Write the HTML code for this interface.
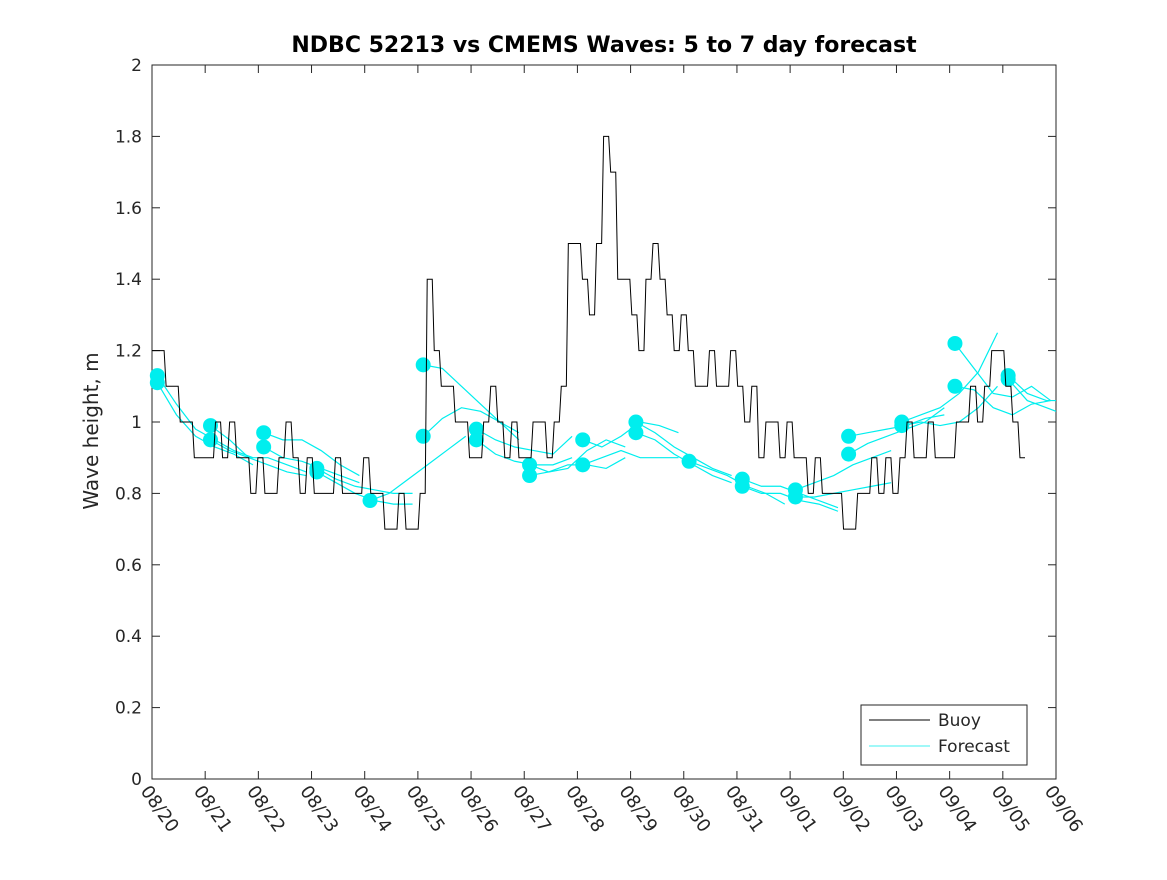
<!DOCTYPE html>
<html><head><meta charset="utf-8"><style>
body{margin:0;background:#fff}
svg{font-family:"DejaVu Sans","Liberation Sans",sans-serif}
</style></head><body>
<svg id="chart" width="1167" height="875" viewBox="0 0 1167 875" xmlns="http://www.w3.org/2000/svg">
<rect x="0" y="0" width="1167" height="875" fill="#fff"/>
<text x="604" y="52" text-anchor="middle" font-size="22" font-weight="bold" fill="#000">NDBC 52213 vs CMEMS Waves: 5 to 7 day forecast</text>
<text transform="translate(98,431) rotate(-90)" text-anchor="middle" font-size="20" fill="#262626">Wave height, m</text>
<rect x="152" y="65" width="904" height="714" fill="none" stroke="#262626" stroke-width="1"/>
<g id="axes"></g>
<g id="forecast"></g>
<g id="buoy"></g>
<g>
<rect x="861" y="705" width="166" height="60" fill="#fff" stroke="#262626" stroke-width="1"/>
<line x1="869" y1="720" x2="930" y2="720" stroke="#000" stroke-width="1"/>
<text x="938" y="726" font-size="17" fill="#262626">Buoy</text>
<line x1="869" y1="746" x2="930" y2="746" stroke="#00eeee" stroke-width="0.8"/>
<text x="938" y="752" font-size="17" fill="#262626">Forecast</text>
</g>
</svg>
<script>
const xLabels=["08/20","08/21","08/22","08/23","08/24","08/25","08/26","08/27","08/28","08/29","08/30","08/31","09/01","09/02","09/03","09/04","09/05","09/06"];
const yTicks=[0,0.2,0.4,0.6,0.8,1,1.2,1.4,1.6,1.8,2];
const buoyStep=0.1327;
const buoy=[
1.2,1.2,1.1,1.1,1.0,1.0,0.9,0.9,
0.9,1.0,0.9,1.0,0.9,0.9,0.8,0.9,
0.8,0.8,0.9,1.0,0.9,0.8,0.9,0.8,
0.8,0.8,0.9,0.8,0.8,0.8,0.9,0.8,
0.8,0.7,0.7,0.8,0.7,0.7,0.8,1.4,
1.2,1.1,1.1,1.0,1.0,0.9,0.9,1.0,
1.1,1.0,0.9,1.0,0.9,0.9,1.0,1.0,
0.9,1.0,1.1,1.5,1.5,1.4,1.3,1.5,
1.8,1.7,1.4,1.4,1.3,1.2,1.4,1.5,
1.4,1.3,1.2,1.3,1.2,1.1,1.1,1.2,
1.1,1.1,1.2,1.1,1.0,1.1,0.9,1.0,
1.0,0.9,1.0,0.9,0.9,0.8,0.9,0.8,
0.8,0.8,0.7,0.7,0.8,0.8,0.9,0.8,
0.9,0.8,0.9,1.0,0.9,0.9,1.0,0.9,
0.9,0.9,1.0,1.0,1.1,1.0,1.1,1.2,
1.2,1.1,1.0,0.9];
const runStart=[0.1,0.1,1.1,1.1,2.1,2.1,3.1,3.1,4.1,5.1,5.1,6.1,6.1,7.1,7.1,8.1,8.1,9.1,9.1,10.1,11.1,11.1,12.1,12.1,13.1,13.1,14.1,14.1,15.1,15.1,16.1,16.1];
const runStep=0.36;
const runValues=[
[1.13,1.05,0.98,0.95,0.92,0.90],[1.11,1.02,0.96,0.93,0.91,0.88],
[0.99,0.95,0.90,0.90,0.88,0.86],[0.95,0.92,0.90,0.88,0.86,0.85],
[0.97,0.95,0.95,0.92,0.88,0.85],[0.93,0.90,0.89,0.87,0.85,0.83],
[0.87,0.84,0.82,0.81,0.80,0.80],[0.86,0.83,0.80,0.78,0.77,0.77],
[0.78,0.80,0.84,0.88,0.92,0.96],
[1.16,1.15,1.10,1.05,1.00,0.95],[0.96,1.01,1.04,1.03,1.00,0.97],
[0.98,0.95,0.93,0.92,0.91,0.96],[0.95,0.91,0.89,0.88,0.88,0.90],
[0.88,0.86,0.87,0.92,0.95,0.93],[0.85,0.86,0.88,0.88,0.87,0.90],
[0.95,0.93,0.96,1.00,0.99,0.97],[0.88,0.90,0.92,0.90,0.90,0.90],
[1.00,0.97,0.93,0.90,0.87,0.85],[0.97,0.95,0.91,0.88,0.85,0.83],
[0.89,0.87,0.85,0.82,0.80,0.77],
[0.84,0.82,0.82,0.80,0.78,0.76],[0.82,0.80,0.80,0.78,0.77,0.75],
[0.81,0.83,0.85,0.88,0.90,0.92],[0.79,0.79,0.80,0.81,0.82,0.83],
[0.96,0.97,0.98,0.99,1.01,1.02],[0.91,0.94,0.96,0.98,1.00,1.04],
[1.00,1.02,1.04,1.08,1.14,1.25],[0.99,1.00,0.99,1.00,1.04,1.10],
[1.22,1.15,1.08,1.07,1.10,1.06],[1.10,1.09,1.04,1.02,1.05,1.06],
[1.13,1.08,1.06,1.06,1.07,1.09],[1.12,1.06,1.04,1.03,1.03,1.05]];

const X0=152,X1=1056,Y0=779,Y1=65;
const NDAYS=xLabels.length-1;
const xs=d=>X0+d*(X1-X0)/NDAYS;
const ys=v=>Y0-v*(Y0-Y1)/2;
const NS="http://www.w3.org/2000/svg";
function mk(tag,attrs,parent){const e=document.createElementNS(NS,tag);for(const k in attrs)e.setAttribute(k,attrs[k]);parent.appendChild(e);return e;}
const axes=document.getElementById('axes');
yTicks.forEach(v=>{
  const y=ys(v);
  const l=mk('line',{x1:X0,y1:y,x2:X0+8,y2:y,stroke:'#262626'},axes);
  
  
  const r=mk('line',{x1:X1,y1:y,x2:X1-8,y2:y,stroke:'#262626'},axes);
  
  
  const t=mk('text',{x:X0-10,y:y+6,'text-anchor':'end','font-size':17,fill:'#262626'},axes);
  
  
  t.textContent=String(v);
});
xLabels.forEach((s,i)=>{
  const x=xs(i);
  const l=mk('line',{x1:x,y1:Y0,x2:x,y2:Y0-8,stroke:'#262626'},axes);
  
  
  const l2=mk('line',{x1:x,y1:Y1,x2:x,y2:Y1+8,stroke:'#262626'},axes);
  
  
  const t=mk('text',{transform:`translate(${x-12},${Y0+12}) rotate(55)`,'font-size':18,fill:'#262626'},axes);
  
  
  t.textContent=s;
});
const fg=document.getElementById('forecast');
runValues.forEach((vals,r)=>{
  const pts=vals.map((v,i)=>[runStart[r]+i*runStep,v]).filter(p=>p[0]<=NDAYS+0.3);
  const p=mk('polyline',{points:pts.map(p=>`${Math.min(xs(p[0]),X1)},${ys(p[1])}`).join(' '),fill:'none',stroke:'#00eeee','stroke-width':1.2},fg);
  
  
});
runValues.forEach((vals,r)=>{
  const c=mk('circle',{cx:xs(runStart[r]),cy:ys(vals[0]),r:7.5,fill:'#00eeee'},fg);
  
  
});
const bg=document.getElementById('buoy');
const bpts=[];
buoy.forEach((v,i)=>{
  const x0=xs(i*buoyStep), x1=xs((i+1)*buoyStep)-2;
  bpts.push(`${x0},${ys(v)}`,`${x1},${ys(v)}`);
});
const bp=mk('polyline',{points:bpts.join(' '),fill:'none',stroke:'#000','stroke-width':1},bg);


</script>
</body></html>
